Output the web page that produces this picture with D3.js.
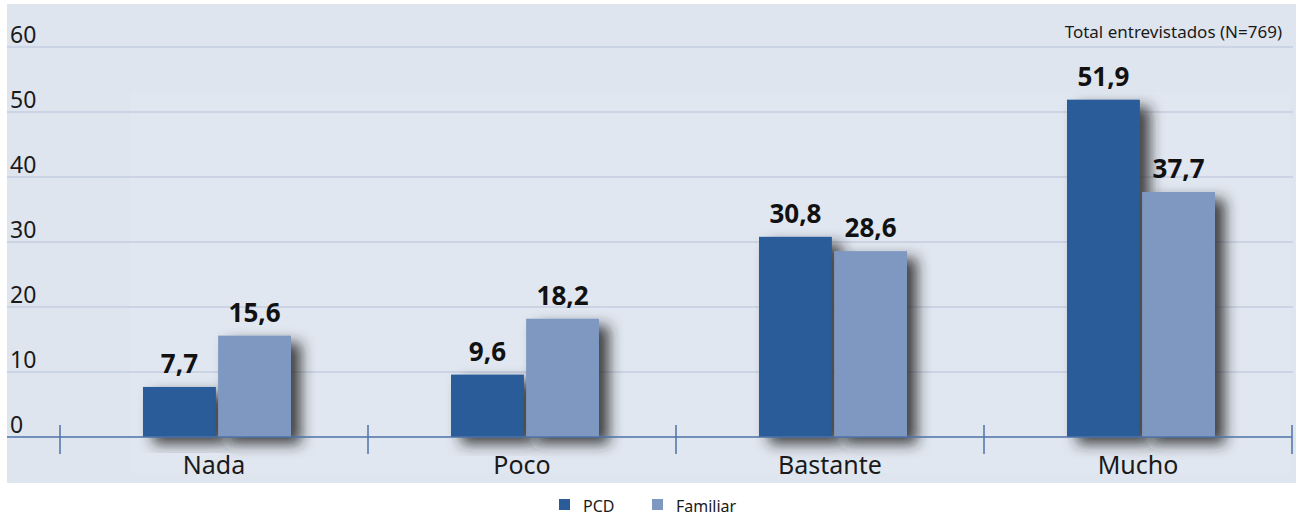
<!DOCTYPE html>
<html>
<head>
<meta charset="utf-8">
<script src="https://cdn.jsdelivr.net/npm/d3@7/dist/d3.min.js"></script>
<style>
  html, body { margin: 0; padding: 0; background: #ffffff; }
  svg { display: block; font-family: "Noto Sans", "Open Sans", sans-serif; }
</style>
</head>
<body>
<svg id="chart" width="1300" height="519"></svg>
<script>
// Categories and series values
const categories = ["Nada", "Poco", "Bastante", "Mucho"];
const seriesNames = ["PCD", "Familiar"];
const pcdValues = [7.7, 9.6, 30.8, 51.9];
const familiarValues = [15.6, 18.2, 28.6, 37.7];
const yTicks = [0, 10, 20, 30, 40, 50, 60];
const noteText = "Total entrevistados (N=769)";

const colors = { PCD: "#2b5b99", Familiar: "#7f98c2" };

const svg = d3.select("#chart");

// Panel background
svg.append("rect").attr("x", 7).attr("y", 4).attr("width", 1289).attr("height", 479)
  .attr("fill", "#dfe5ef");
svg.append("rect").attr("x", 130).attr("y", 92).attr("width", 1160).attr("height", 381)
  .attr("fill", "#e1e7f0");

// Drop shadow for bars
const defs = svg.append("defs");
const f = defs.append("filter").attr("id", "shadow")
  .attr("x", "-40%").attr("y", "-20%").attr("width", "200%").attr("height", "150%");
f.append("feDropShadow").attr("dx", 10).attr("dy", 7).attr("stdDeviation", 7)
  .attr("flood-color", "#262626").attr("flood-opacity", 0.85);

// Scales
const x0 = d3.scaleBand().domain(categories).range([60, 1292]).padding(0);
const x1 = d3.scaleBand().domain(seriesNames).range([83, 231]).paddingInner(0.03);
const y = d3.scaleLinear().domain([0, 60]).range([437, 47]);

// Gridlines
svg.append("g").selectAll("line").data(yTicks.filter(t => t > 0)).join("line")
  .attr("x1", 7).attr("x2", 1293)
  .attr("y1", d => y(d)).attr("y2", d => y(d))
  .attr("stroke", "#c4cee0").attr("stroke-width", 1.5);

// Y tick labels
svg.append("g").selectAll("text").data(yTicks).join("text")
  .attr("x", 10).attr("y", d => y(d) - 4)
  .attr("font-size", 23).attr("fill", "#1a1a1a")
  .text(d => d);

// Bars
const rows = categories.map((c, i) => ({
  cat: c,
  vals: [{ s: "PCD", v: pcdValues[i] }, { s: "Familiar", v: familiarValues[i] }]
}));

const groups = svg.append("g").selectAll("g").data(rows).join("g")
  .attr("transform", d => `translate(${x0(d.cat)},0)`);

groups.selectAll("rect").data(d => d.vals).join("rect")
  .attr("x", d => x1(d.s))
  .attr("width", x1.bandwidth())
  .attr("y", d => y(d.v))
  .attr("height", d => y(0) - y(d.v))
  .attr("fill", d => colors[d.s])
  .attr("filter", "url(#shadow)");

groups.selectAll("text").data(d => d.vals).join("text")
  .attr("x", d => x1(d.s) + x1.bandwidth() / 2)
  .attr("y", d => y(d.v) - 14)
  .attr("text-anchor", "middle")
  .attr("font-size", 26).attr("font-weight", "bold").attr("fill", "#111")
  .text(d => d3.format(".1f")(d.v).replace(".", ","));

// X axis line and ticks
const axis = svg.append("g");
axis.append("line").attr("x1", 7).attr("x2", 1292)
  .attr("y1", y(0)).attr("y2", y(0))
  .attr("stroke", "#4d72a8").attr("stroke-width", 1.5);
const bounds = categories.map(c => x0(c)).concat([x0.range()[1]]);
axis.selectAll("line.tick").data(bounds).join("line").attr("class", "tick")
  .attr("x1", d => d).attr("x2", d => d)
  .attr("y1", 425).attr("y2", 454)
  .attr("stroke", "#4d72a8").attr("stroke-width", 1.5);
axis.selectAll("text").data(categories).join("text")
  .attr("x", d => x0(d) + x0.bandwidth() / 2)
  .attr("y", 474)
  .attr("text-anchor", "middle")
  .attr("font-size", 25).attr("fill", "#1a1a1a")
  .text(d => d);

// Note
svg.append("text").attr("x", 1282).attr("y", 38).attr("text-anchor", "end")
  .attr("font-size", 17).attr("fill", "#1a1a1a").text(noteText);

// Legend
const legendX = [559, 652];
const legend = svg.append("g").selectAll("g").data(seriesNames).join("g")
  .attr("transform", (d, i) => `translate(${legendX[i]},499)`);
legend.append("rect").attr("width", 11).attr("height", 11).attr("fill", d => colors[d]);
legend.append("text").attr("x", 24).attr("y", 13)
  .attr("font-size", 16).attr("fill", "#1a1a1a").text(d => d);
</script>
</body>
</html>
